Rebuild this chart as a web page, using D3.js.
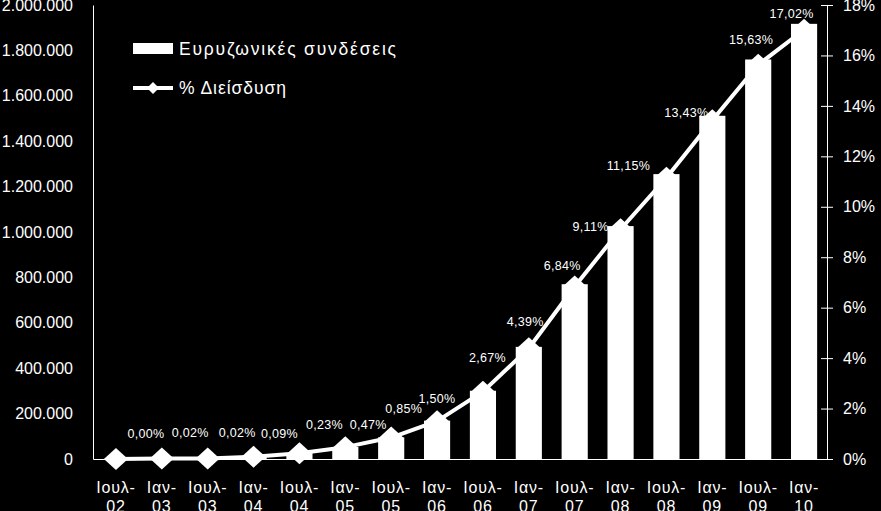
<!DOCTYPE html>
<html><head><meta charset="utf-8">
<script src="https://cdn.jsdelivr.net/npm/d3@7"></script>
<style>
html,body{margin:0;padding:0;background:#000;}
svg{display:block;font-family:"Liberation Sans",Arial,sans-serif;}
</style></head>
<body>
<svg id="chart" width="881" height="511"></svg>
<script>
// ---- data ----
const categories = ["Ιουλ-02","Ιαν-03","Ιουλ-03","Ιαν-04","Ιουλ-04","Ιαν-05","Ιουλ-05","Ιαν-06","Ιουλ-06","Ιαν-07","Ιουλ-07","Ιαν-08","Ιουλ-08","Ιαν-09","Ιουλ-09","Ιαν-10"];
const connections = [300, 2300, 2400, 10100, 25900, 52900, 95700, 169000, 300700, 494000, 770000, 1026000, 1255000, 1512000, 1760000, 1917000];
const penetration = [0.00, 0.02, 0.02, 0.09, 0.23, 0.47, 0.85, 1.50, 2.67, 4.39, 6.84, 9.11, 11.15, 13.43, 15.63, 17.02];
const leftTicks = [0, 200000, 400000, 600000, 800000, 1000000, 1200000, 1400000, 1600000, 1800000, 2000000];
const rightTicks = [0, 2, 4, 6, 8, 10, 12, 14, 16, 18];
const seriesNames = ["Ευρυζωνικές συνδέσεις", "% Διείσδυση"];
// label offsets (px) from each point, as placed in the original
const labelOffsets = [[30,-26],[28.5,-25.5],[29.5,-25.5],[26,-23.7],[25,-29],[23,-23],[12.5,-28.6],[0,-23],[4.5,-34],[-3.5,-26.5],[-12.5,-21],[-30,-3],[-38,-12],[-26,-8],[-7,-25],[-12.5,-16.7]];

const svg = d3.select("#chart");
const W = 881, H = 511;
const mLeft = 93, mRight = 827, mTop = 5, mBottom = 459;

svg.append("rect").attr("width", W).attr("height", H).attr("fill", "#000");

const x = d3.scaleBand().domain(categories).range([mLeft, mRight]).paddingInner(0.43).paddingOuter(0.215);
const yL = d3.scaleLinear().domain([0, 2000000]).range([mBottom, mTop]);
const yR = d3.scaleLinear().domain([0, 18]).range([mBottom, mTop]);

const loc = d3.formatLocale({decimal: ",", thousands: ".", grouping: [3], currency: ["", ""]});
const fmtL = loc.format(",");
const fmtP = loc.format(".2f");

// left axis
const gL = svg.append("g").attr("transform", `translate(${mLeft},0)`)
  .call(d3.axisLeft(yL).tickValues(leftTicks).tickFormat(fmtL).tickSize(0).tickPadding(20));
gL.select(".domain").attr("stroke", "#fff").attr("stroke-width", 1);
gL.selectAll("text").attr("fill", "#fff").attr("font-size", 16).attr("font-family", "Liberation Sans, Arial, sans-serif");

// right axis
const gR = svg.append("g").attr("transform", `translate(${mRight},0)`)
  .call(d3.axisRight(yR).tickValues(rightTicks).tickFormat(d => d + "%").tickSizeInner(6).tickSizeOuter(0).tickPadding(10));
gR.select(".domain").attr("stroke", "#fff").attr("stroke-width", 1);
gR.selectAll(".tick line").attr("x1", -6).attr("x2", 6).attr("stroke", "#fff");
gR.selectAll("text").attr("fill", "#fff").attr("font-size", 16).attr("x", 16).attr("font-family", "Liberation Sans, Arial, sans-serif");

// bottom axis
const gB = svg.append("g").attr("transform", `translate(0,${mBottom})`)
  .call(d3.axisBottom(x).tickSize(0).tickSizeOuter(0));
gB.select(".domain").attr("stroke", "#fff").attr("stroke-width", 1);
gB.selectAll(".tick text").each(function(d) {
  const t = d3.select(this);
  const parts = d.split("-");
  t.text(null).attr("fill", "#fff").attr("font-size", 16).attr("y", 0).attr("dy", null)
   .attr("letter-spacing", 0.8).attr("font-family", "Liberation Sans, Arial, sans-serif");
  t.append("tspan").attr("x", 0).attr("y", 33.5).text(parts[0] + "-");
  t.append("tspan").attr("x", 0).attr("y", 53).text(parts[1]);
});

// line (behind bars)
const line = d3.line().x((d, i) => x(categories[i]) + x.bandwidth() / 2).y(d => yR(d));
svg.append("path").datum(penetration).attr("d", line)
  .attr("fill", "none").attr("stroke", "#fff").attr("stroke-width", 4).attr("stroke-linejoin", "round");

const diamond = (cx, cy, rx, ry) => `M${cx},${cy - ry}L${cx + rx},${cy}L${cx},${cy + ry}L${cx - rx},${cy}Z`;
svg.append("g").selectAll("path").data(penetration).join("path")
  .attr("d", (d, i) => diamond(x(categories[i]) + x.bandwidth() / 2, yR(d), 12, 11))
  .attr("fill", "#fff");

// bars
svg.append("g").selectAll("rect").data(connections).join("rect")
  .attr("x", (d, i) => x(categories[i]))
  .attr("width", x.bandwidth())
  .attr("y", d => yL(d))
  .attr("height", d => yL(0) - yL(d))
  .attr("fill", "#fff");

// data labels
svg.append("g").selectAll("text").data(penetration).join("text")
  .attr("x", (d, i) => x(categories[i]) + x.bandwidth() / 2 + labelOffsets[i][0])
  .attr("y", (d, i) => yR(d) + labelOffsets[i][1])
  .attr("dy", "0.36em")
  .attr("text-anchor", "middle")
  .attr("fill", "#fff")
  .attr("font-size", 12.5)
  .attr("letter-spacing", 0.3)
  .text(d => fmtP(d) + "%");

// legend
const lg = svg.append("g");
lg.append("rect").attr("x", 133).attr("y", 43).attr("width", 40).attr("height", 11).attr("fill", "#fff");
lg.append("text").attr("x", 179).attr("y", 49).attr("dy", "0.36em").attr("fill", "#fff")
  .attr("font-size", 17.5).attr("textLength", 217).attr("lengthAdjust", "spacing").text(seriesNames[0]);
lg.append("line").attr("x1", 133).attr("x2", 173).attr("y1", 88).attr("y2", 88).attr("stroke", "#fff").attr("stroke-width", 4);
lg.append("path").attr("d", diamond(153, 88, 6, 6)).attr("fill", "#fff");
lg.append("text").attr("x", 179).attr("y", 88).attr("dy", "0.36em").attr("fill", "#fff")
  .attr("font-size", 17.5).attr("textLength", 107).attr("lengthAdjust", "spacing").text(seriesNames[1]);
</script>
</body></html>
